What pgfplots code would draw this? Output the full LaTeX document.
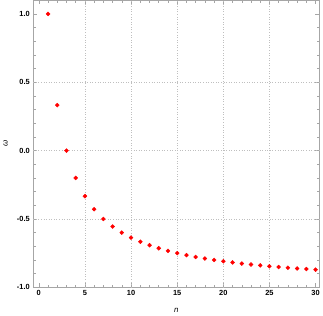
\documentclass[border=0pt]{standalone}
\usepackage{pgfplots}
\pgfplotsset{compat=1.18}
\usepackage{fontspec}
\setmainfont{Liberation Sans}
\begin{document}
\begin{tikzpicture}
\begin{axis}[
  scale only axis, width=288bp, height=289bp,
  xmin=-0.6, xmax=30.4, ymin=-1.0, ymax=1.1,
  axis line style={gray!70, line width=0.6pt},
  xtick={0,5,10,15,20,25,30},
  ytick={-1,-0.5,0,0.5,1},
  minor x tick num=4, minor y tick num=4,
  tick style={gray!70, line width=0.5pt},
  major tick length=4bp, minor tick length=2.5bp,
  tick pos=both, tick align=inside,
  xticklabel pos=lower, yticklabel pos=left,
  /pgf/number format/assume math mode=true,
  /pgf/number format/fixed, /pgf/number format/fixed zerofill,
  yticklabel style={/pgf/number format/precision=1, font=\bfseries\fontsize{7.5}{8}\selectfont},
  xticklabel style={/pgf/number format/precision=0, font=\bfseries\fontsize{7.5}{8}\selectfont},
  xlabel={\textit{n}}, ylabel={\textit{ω}},
  xlabel style={font=\fontsize{8}{9}\selectfont, at={([yshift=-23bp]axis description cs:0.5,0)}, anchor=center},
  ylabel style={font=\fontsize{8}{9}\selectfont, at={([xshift=-28bp]axis description cs:0,0.5)}, anchor=center},
  clip=false,
]
\foreach \gx in {5,10,15,20,25} {
  \edef\tmp{\noexpand\draw[gray!50, dotted, line width=0.6pt] (axis cs:\gx,-1) -- (axis cs:\gx,1.1);}\tmp
}
\foreach \gy in {-0.5,0,0.5} {
  \edef\tmp{\noexpand\draw[gray!50, dotted, line width=0.6pt] (axis cs:-0.6,\gy) -- (axis cs:30.4,\gy);}\tmp
}
\addplot[only marks, mark=*, mark size=2bp, color=red, mark options={draw=red, fill=red}] coordinates {
(1,1) (2,0.3333) (3,0) (4,-0.2) (5,-0.3333) (6,-0.4286) (7,-0.5) (8,-0.5556) (9,-0.6) (10,-0.6364)
(11,-0.6667) (12,-0.6923) (13,-0.7143) (14,-0.7333) (15,-0.75) (16,-0.7647) (17,-0.7778) (18,-0.7895) (19,-0.8) (20,-0.8095)
(21,-0.8182) (22,-0.8261) (23,-0.8333) (24,-0.84) (25,-0.8462) (26,-0.8519) (27,-0.8571) (28,-0.8621) (29,-0.8667) (30,-0.871)
};
\end{axis}
\end{tikzpicture}
\end{document}
